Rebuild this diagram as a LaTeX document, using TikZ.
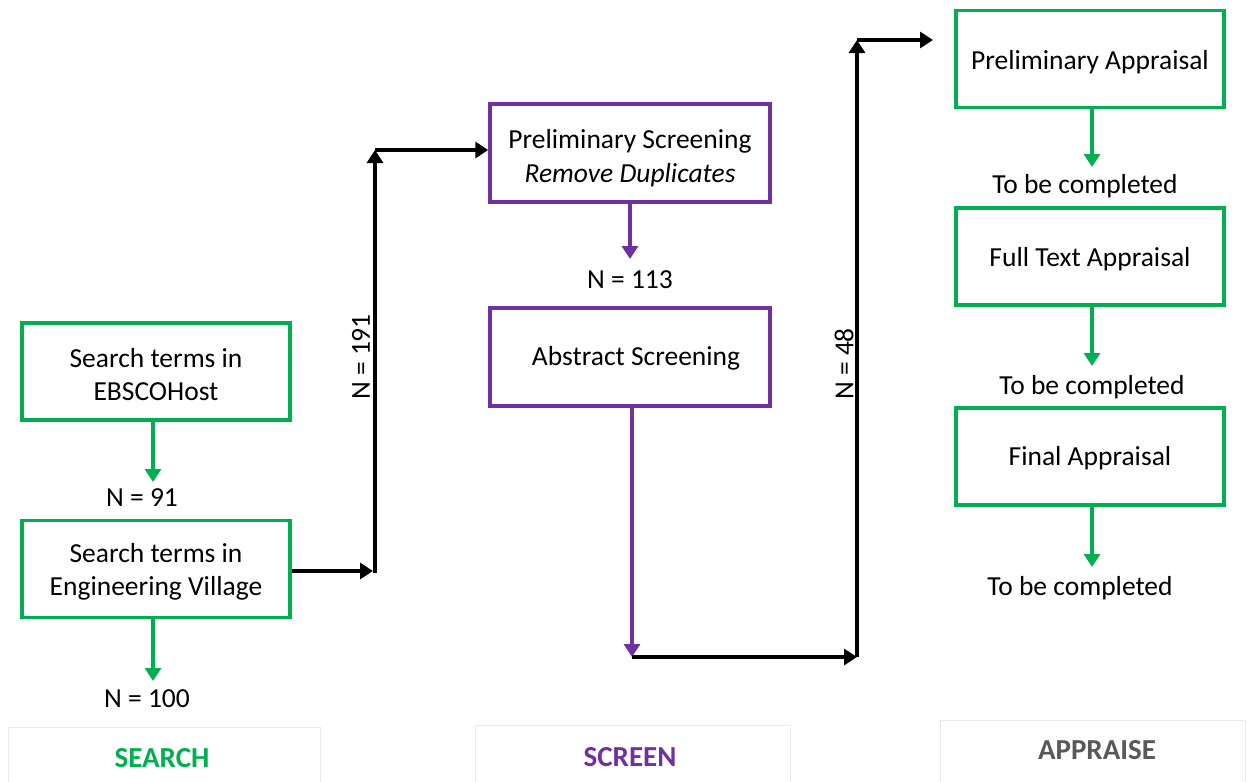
\documentclass[tikz,border=0pt]{standalone}
\usepackage{fontspec}
\setmainfont{Carlito}
\usetikzlibrary{arrows.meta}
\definecolor{cgreen}{HTML}{00B050}
\definecolor{cpurple}{HTML}{7030A0}
\definecolor{cgray}{HTML}{595959}
\definecolor{cpanel}{HTML}{EAEAEA}
\tikzset{
  gbox/.style={draw=cgreen, line width=3.5pt, minimum width=268pt, minimum height=97pt, inner sep=0pt},
  pbox/.style={draw=cpurple, line width=3.5pt, minimum width=280pt, minimum height=98pt, inner sep=0pt},
  btxt/.style={align=center, inner sep=0pt, font=\fontsize{27.5}{33.5}\selectfont},
  lbl/.style={font=\fontsize{27.5}{33}\selectfont, inner sep=0pt},
  garrow/.style={draw=cgreen, line width=3.5pt, -{Triangle[length=13pt,width=16pt]}},
  parrow/.style={draw=cpurple, line width=3.5pt, -{Triangle[length=13pt,width=16pt]}},
  barrow/.style={draw=black, line width=4pt, -{Triangle[length=13pt,width=16pt]}},
  panel/.style={draw=cpanel, line width=0.8pt},
  phase/.style={font=\fontsize{29}{30}\selectfont\bfseries, inner sep=0pt}
}
\begin{document}
\begin{tikzpicture}[x=1pt,y=-1pt]
\useasboundingbox (0,0) rectangle (1248,782);
% panels
\draw[panel] (8,782) -- (8,727) -- (320,727) -- (320,782);
\draw[panel] (475,782) -- (475,725) -- (790,725) -- (790,782);
\draw[panel] (940,782) -- (940,720) -- (1245,720) -- (1245,782);
\node[phase, text=cgreen] (search) at (162,758) {SEARCH};
\node[phase, text=cpurple] (screen) at (630,757) {SCREEN};
\node[phase, text=cgray] (appraise) at (1097,750) {APPRAISE};
% search column
\node[gbox] (ebsco) at (156,371.5) {};
\node[btxt] (ebscot) at ([yshift=-3pt]ebsco.center) {Search terms in\\EBSCOHost};
\node[lbl] (n91) at (142,498) {N = 91};
\node[gbox] (ev) at (156,569) {};
\node[btxt] (evt) at ([yshift=-3pt]ev.center) {Search terms in\\Engineering Village};
\node[lbl] (n100) at (147,699) {N = 100};
\draw[garrow] (ebsco.south -| 153,0) -- (153,482);
\draw[garrow] (ev.south -| 153,0) -- (153,681);
% screen column
\node[pbox] (prelim) at (630,153) {};
\node[btxt] (prelimt) at ([yshift=-5pt]prelim.center) {Preliminary Screening\\\itshape Remove Duplicates};
\node[lbl] (n113) at (630,280) {N = 113};
\node[pbox] (abs) at (630,357) {};
\node[btxt] (abst) at ([xshift=6pt,yshift=-1pt]abs.center) {Abstract Screening};
\draw[parrow] (prelim.south) -- (630,259);
\coordinate (c1) at (373,571);
\coordinate (c2) at (375,150);
\coordinate (c2b) at (375,573);
\coordinate (c3) at (632,657);
\coordinate (c4) at (857,657);
\coordinate (c5) at (857,40);
\draw[barrow] (ev.east |- c1) -- (c1);
\draw[barrow] (c2b) -- (c2);
\draw[barrow] (c2) -- (prelim.west |- c2);
\node[lbl, rotate=90] (n191) at (361,357) {N = 191};
\draw[parrow] (abs.south -| c3) -- (c3);
\draw[barrow] (c3) -- (c4);
\draw[barrow] (c4) -- (c5);
% appraise column
\node[gbox] (pa) at (1090,59) {};
\node[btxt] (pat) at ([yshift=-3pt]pa.center) {Preliminary Appraisal};
\node[gbox] (fta) at (1090,256.5) {};
\node[btxt] (ftat) at ([yshift=-3pt]fta.center) {Full Text Appraisal};
\node[gbox] (fa) at (1090,456.5) {};
\node[btxt] (fat) at ([yshift=-2pt]fa.center) {Final Appraisal};
\node[lbl] (tbc1) at (1085,186) {To be completed};
\node[lbl] (tbc2) at (1092,387) {To be completed};
\node[lbl] (tbc3) at (1080,588) {To be completed};
\draw[barrow] (c5) -- (933,40);
\node[lbl, rotate=90] (n48) at (844,364) {N = 48};
\draw[garrow] (pa.south -| 1092,0) -- (1092,167);
\draw[garrow] (fta.south -| 1092,0) -- (1092,366);
\draw[garrow] (fa.south -| 1092,0) -- (1092,567);
\end{tikzpicture}
\end{document}
